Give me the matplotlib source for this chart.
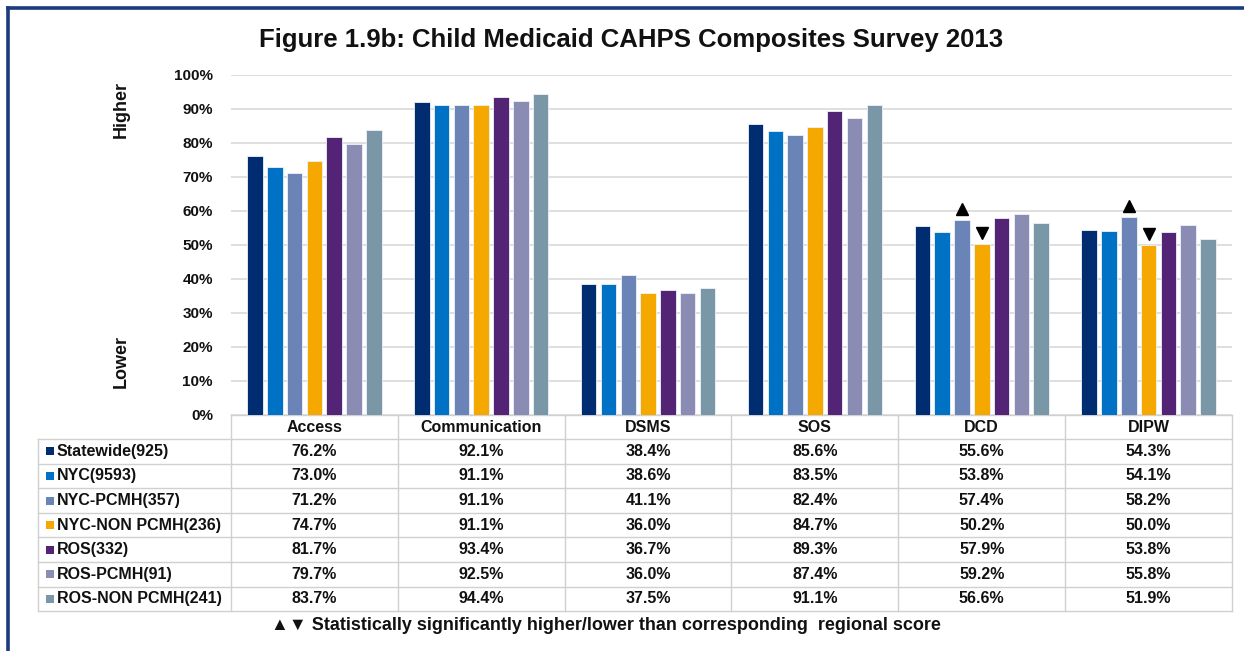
import matplotlib
matplotlib.use("Agg")
import matplotlib.pyplot as plt
from matplotlib.lines import Line2D
from matplotlib.patches import Rectangle
from matplotlib.transforms import offset_copy

categories = ["Access", "Communication", "DSMS", "SOS", "DCD", "DIPW"]
series = ["Statewide(925)", "NYC(9593)", "NYC-PCMH(357)", "NYC-NON PCMH(236)",
          "ROS(332)", "ROS-PCMH(91)", "ROS-NON PCMH(241)"]
statewide = [76.2, 92.1, 38.4, 85.6, 55.6, 54.3]
nyc = [73.0, 91.1, 38.6, 83.5, 53.8, 54.1]
nyc_pcmh = [71.2, 91.1, 41.1, 82.4, 57.4, 58.2]
nyc_non_pcmh = [74.7, 91.1, 36.0, 84.7, 50.2, 50.0]
ros = [81.7, 93.4, 36.7, 89.3, 57.9, 53.8]
ros_pcmh = [79.7, 92.5, 36.0, 87.4, 59.2, 55.8]
ros_non_pcmh = [83.7, 94.4, 37.5, 91.1, 56.6, 51.9]
values = [statewide, nyc, nyc_pcmh, nyc_non_pcmh, ros, ros_pcmh, ros_non_pcmh]

# significance flags: (category, series index)
sig_higher = [("DCD", 2), ("DIPW", 2)]
sig_lower = [("DCD", 3), ("DIPW", 3)]

COLORS = ["#002D72", "#0072C6", "#6A84B8", "#F5A800",
          "#532476", "#8A8CB4", "#7A97A8"]
TXT = "#111111"
GRID = "#D9D9D9"
FONT = "Liberation Sans"

W, H = 1244, 651
fig = plt.figure(figsize=(W / 100, H / 100), dpi=100)
fig.patch.set_facecolor("white")

# plot area in pixels: x 231..1232, y 75..415
ax = fig.add_axes([231 / W, 1 - 415 / H, 1001 / W, 340 / H])
n = len(series)
slot = 0.1186
bw = 0.093
for j, (name, vals) in enumerate(zip(series, values)):
    xs = [i + (j - (n - 1) / 2) * slot for i in range(len(categories))]
    ax.bar(xs, vals, width=bw, color=COLORS[j], edgecolor="#EEF2F7",
           linewidth=0.6, zorder=3)

up = offset_copy(ax.transData, fig=fig, y=8, units="points")
for cat, j in sig_higher:
    i = categories.index(cat)
    ax.plot(i + (j - (n - 1) / 2) * slot, values[j][i], marker="^", ms=9,
            color="black", transform=up, zorder=4, clip_on=False)
for cat, j in sig_lower:
    i = categories.index(cat)
    ax.plot(i + (j - (n - 1) / 2) * slot, values[j][i], marker="v", ms=9,
            color="black", transform=up, zorder=4, clip_on=False)

ax.set_xlim(-0.5, len(categories) - 0.5)
ax.set_ylim(0, 100)
ax.set_yticks(range(0, 101, 10))
ax.set_yticklabels([f"{v}%" for v in range(0, 101, 10)], fontfamily=FONT,
                   fontweight="bold", fontsize=11, color=TXT)
ax.tick_params(axis="y", length=0, pad=13)
ax.set_xticks([])
ax.yaxis.grid(True, color=GRID, lw=1.2)
ax.set_axisbelow(True)
for s in ax.spines.values():
    s.set_visible(False)

# data table under the plot (x in data units, y in axes fraction)
tr = ax.get_xaxis_transform()
py = 1 / 340            # axes fraction per pixel
px = 1 / 166.8          # data units per pixel
head_bot = -24 * py
row_h = 24.6 * py
x_left = -0.5 - (231 - 38) * px
x_right = len(categories) - 0.5
line_kw = dict(color="#D0D0D0", lw=1, transform=tr, clip_on=False)
table_bot = head_bot - n * row_h

ax.add_line(Line2D([-0.5, x_right], [0, 0], **line_kw))
ax.add_line(Line2D([x_left, x_right], [head_bot, head_bot], **line_kw))
for r in range(1, n + 1):
    yy = head_bot - r * row_h
    ax.add_line(Line2D([x_left, x_right], [yy, yy], **line_kw))
ax.add_line(Line2D([x_left, x_left], [head_bot, table_bot], **line_kw))
for k in range(len(categories) + 1):
    xx = k - 0.5
    ax.add_line(Line2D([xx, xx], [0, table_bot], **line_kw))

txt_kw = dict(transform=tr, fontfamily=FONT, fontweight="bold",
              fontsize=11.5, color=TXT, va="center", clip_on=False)
for i, cat in enumerate(categories):
    ax.text(i, head_bot / 2, cat, ha="center", **txt_kw)
for j, name in enumerate(series):
    yc = head_bot - (j + 0.5) * row_h
    ax.add_patch(Rectangle((x_left + 8 * px, yc - 4 * py), 8 * px, 8 * py,
                           facecolor=COLORS[j], edgecolor="none",
                           transform=tr, clip_on=False))
    ax.text(x_left + 19 * px, yc, name, ha="left", **txt_kw)
    for i in range(len(categories)):
        ax.text(i, yc, f"{values[j][i]:.1f}%", ha="center", **txt_kw)

fig.text(631 / W, 1 - 40 / H,
         "Figure 1.9b: Child Medicaid CAHPS Composites Survey 2013",
         ha="center", va="center", fontfamily=FONT, fontweight="bold",
         fontsize=18.5, color=TXT)
fig.text(121 / W, 1 - 109 / H, "Higher", rotation=90, ha="center",
         va="center", fontfamily=FONT, fontweight="bold", fontsize=13,
         color=TXT)
fig.text(121 / W, 1 - 362 / H, "Lower", rotation=90, ha="center",
         va="center", fontfamily=FONT, fontweight="bold", fontsize=13,
         color=TXT)
fig.text(271 / W, 1 - 626 / H,
         "\u25b2\u25bc Statistically significantly higher/lower than "
         "corresponding  regional score",
         ha="left", va="center", fontfamily=[FONT, "DejaVu Sans"],
         fontweight="bold", fontsize=13, color=TXT)

# frame (top and left edges)
fig.add_artist(Line2D([8 / W, 1], [1 - 8 / H, 1 - 8 / H], color="#1C3A7E",
                      lw=2.6, transform=fig.transFigure))
fig.add_artist(Line2D([8 / W, 8 / W], [0, 1 - 8 / H], color="#1C3A7E",
                      lw=2.6, transform=fig.transFigure))

fig.savefig("out.png", dpi=100)
